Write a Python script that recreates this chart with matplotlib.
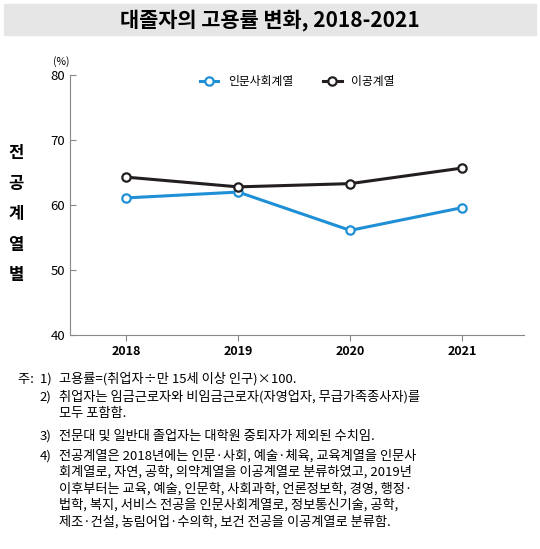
import matplotlib
matplotlib.use("Agg")
import matplotlib.pyplot as plt
from matplotlib.patches import Rectangle

plt.rcParams['font.family'] = ['Noto Sans CJK KR', 'DejaVu Sans']

years = [2018, 2019, 2020, 2021]
humanities = [61.1, 62.0, 56.1, 59.6]
science = [64.3, 62.8, 63.3, 65.7]
yticks = [40, 50, 60, 70, 80]

fig = plt.figure(figsize=(5.4, 5.49), dpi=100)
fig.patches.append(Rectangle((0.008, 0.937), 0.985, 0.055, transform=fig.transFigure,
                             color='#e6e6e6', zorder=0))
fig.text(0.5, 0.964, '대졸자의 고용률 변화, 2018-2021', ha='center', va='center',
         fontsize=15, fontweight='bold')

ax = fig.add_axes([0.13, 0.39, 0.84, 0.473])
ax.plot(years, humanities, color='#1f8fd6', lw=2.2, marker='o', ms=6,
        mfc='white', mec='#1f8fd6', mew=1.6, label='인문사회계열')
ax.plot(years, science, color='#231f20', lw=2.2, marker='o', ms=6,
        mfc='white', mec='#231f20', mew=1.6, label='이공계열')
ax.set_xlim(2017.5, 2021.55)
ax.set_ylim(40, 80)
ax.set_yticks(yticks)
ax.set_xticks(years)
ax.set_xticklabels([str(y) for y in years], fontweight='bold', fontsize=9)
ax.tick_params(axis='y', labelsize=9.5, length=4, direction='in', color='#888888')
ax.tick_params(axis='x', length=4, direction='out', color='#888888')
for s in ['top', 'right']:
    ax.spines[s].set_visible(False)
for s in ['left', 'bottom']:
    ax.spines[s].set_color('#888888')
ax.text(-0.02, 1.04, '(%)', transform=ax.transAxes, fontsize=7.5, ha='center')
ax.legend(loc='upper center', bbox_to_anchor=(0.5, 1.04), ncol=2, frameon=False,
          fontsize=8.5, handlelength=1.6, columnspacing=2.5)
fig.text(0.03, 0.61, '전\n공\n계\n열\n별', ha='center', va='center', fontsize=12,
         fontweight='bold', linespacing=1.9)

notes = [
    ('주:  1)', '고용률=(취업자÷만 15세 이상 인구)×100.'),
    ('2)', '취업자는 임금근로자와 비임금근로자(자영업자, 무급가족종사자)를\n모두 포함함.'),
    ('3)', '전문대 및 일반대 졸업자는 대학원 중퇴자가 제외된 수치임.'),
    ('4)', '전공계열은 2018년에는 인문·사회, 예술·체육, 교육계열을 인문사\n회계열로, 자연, 공학, 의약계열을 이공계열로 분류하였고, 2019년\n이후부터는 교육, 예술, 인문학, 사회과학, 언론정보학, 경영, 행정·\n법학, 복지, 서비스 전공을 인문사회계열로, 정보통신기술, 공학,\n제조·건설, 농림어업·수의학, 보건 전공을 이공계열로 분류함.'),
]
ys = [0.322, 0.289, 0.218, 0.182]
for (lab, txt), y in zip(notes, ys):
    fig.text(0.095, y, lab, ha='right', va='top', fontsize=9.5)
    fig.text(0.11, y, txt, ha='left', va='top', fontsize=9.5, linespacing=1.3)

fig.savefig('out.png', dpi=100)
